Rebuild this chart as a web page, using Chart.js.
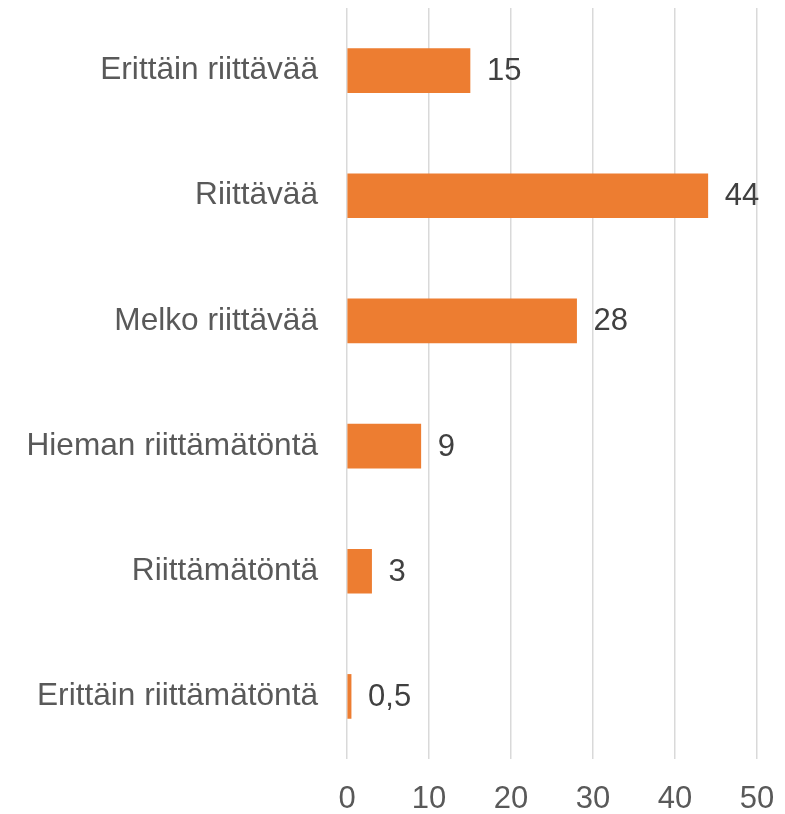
<!DOCTYPE html>
<html>
<head>
<meta charset="utf-8">
<script src="https://cdn.jsdelivr.net/npm/chart.js@4"></script>
<style>
  html, body { margin: 0; padding: 0; background: #ffffff; }
  #wrap { width: 785px; height: 814px; position: relative; }
</style>
</head>
<body>
<div id="wrap"><canvas id="Chart"></canvas></div>
<script>
// Data
const categories = [
  "Erittäin riittävää",
  "Riittävää",
  "Melko riittävää",
  "Hieman riittämätöntä",
  "Riittämätöntä",
  "Erittäin riittämätöntä"
];
const values = [15, 44, 28, 9, 3, 0.5];
const valueLabels = ["15", "44", "28", "9", "3", "0,5"];
const xTicks = [0, 10, 20, 30, 40, 50];

const FONT = "'Liberation Sans', Arial, sans-serif";

// draw the value next to each bar
const barLabels = {
  id: "barLabels",
  afterDatasetsDraw(chart) {
    const ctx = chart.ctx;
    const meta = chart.getDatasetMeta(0);
    ctx.save();
    ctx.font = "31px " + FONT;
    ctx.fillStyle = "#404040";
    ctx.textAlign = "left";
    ctx.textBaseline = "middle";
    meta.data.forEach((bar, i) => {
      ctx.fillText(valueLabels[i], bar.x + 17, bar.y + 1);
    });
    ctx.restore();
  }
};

new Chart(document.getElementById("Chart"), {
  type: "bar",
  data: {
    labels: categories,
    datasets: [{
      data: values,
      backgroundColor: "#ED7D31",
      barThickness: 44
    }]
  },
  options: {
    indexAxis: "y",
    responsive: true,
    maintainAspectRatio: false,
    animation: false,
    layout: { padding: { top: 8, right: 28, left: 0, bottom: 0 } },
    plugins: {
      legend: { display: false },
      tooltip: { enabled: false }
    },
    scales: {
      x: {
        min: 0,
        max: 50,
        afterBuildTicks(scale) {
          scale.ticks = xTicks.map(v => ({ value: v }));
        },
        afterFit(scale) {
          scale.height = 55;
          scale.paddingLeft = 0;
          scale.paddingRight = 0;
        },
        border: { display: false },
        grid: { color: "#d9d9d9", lineWidth: 1.5, drawTicks: false },
        ticks: {
          padding: 22,
          color: "#595959",
          font: { family: FONT, size: 31 }
        }
      },
      y: {
        afterFit(scale) {
          scale.width = 347;
          scale.paddingTop = 0;
          scale.paddingBottom = 0;
        },
        border: { display: false },
        grid: { display: false, drawTicks: false },
        ticks: {
          padding: 29,
          color: "#595959",
          font: { family: FONT, size: 31.6 }
        }
      }
    }
  },
  plugins: [barLabels]
});
</script>
</body>
</html>
